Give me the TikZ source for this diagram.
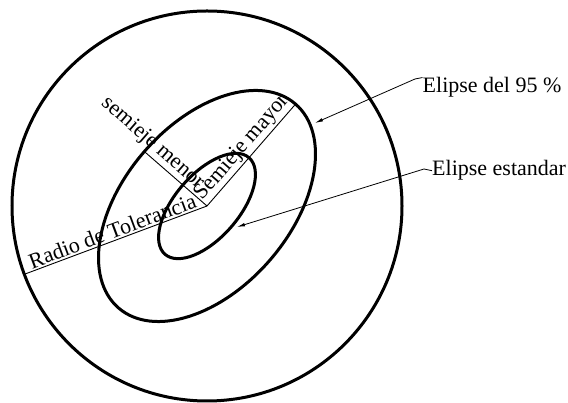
\documentclass[tikz,border=0pt]{standalone}
\usepackage{fontspec}
\setmainfont{Liberation Serif}
\usetikzlibrary{arrows.meta,calc}
\definecolor{ShapeClr}{rgb}{0,0,0}
\definecolor{AxisClr}{rgb}{0,0,0}

\begin{document}
\begin{tikzpicture}[x=1pt,y=1pt,
  ShapeLine/.style={line width=3pt,color=ShapeClr},
  AxisLine/.style={line width=0.9pt,color=AxisClr},
  AxisLabel/.style={font=\fontsize{22}{26}\selectfont,inner sep=1.5pt},
  LeaderLine/.style={line width=0.8pt,color=AxisClr,-{Latex[length=8pt,width=3.5pt]}}]
\useasboundingbox (0,0) rectangle (568,403);

\coordinate (O) at (207,197);
\coordinate (T) at ($(O)+(200.5:195)$);
\coordinate (M) at ($(O)+(49:135)$);
\coordinate (m) at ($(O)+(139:83)$);
\coordinate (P) at (315,280);
\coordinate (S) at (237,176);
\coordinate (K) at (415,324);
\coordinate (k) at (424,234);

\draw[ShapeLine] (O) circle (195);
\draw[ShapeLine,rotate around={49:(O)}] (O) ellipse (135 and 83);
\draw[ShapeLine,rotate around={49:(O)}] (O) ellipse (64 and 32);

\draw[AxisLine] (T) -- node[AxisLabel,sloped,above] {Radio de Tolerancia} (O)
  -- node[AxisLabel,sloped,above] {Semieje mayor} (M);
\draw[AxisLine] (m) -- node[AxisLabel,sloped,above,pos=0.01] {semieje menor} (O);

\node[AxisLabel,anchor=base west,inner sep=0] (e95) at (422.5,310) {Elipse del 95 \%};
\node[AxisLabel,anchor=base west,inner sep=0] (est) at (432,227) {Elipse estandar};
\draw[LeaderLine] (e95.north west) -- (K) -- (P);
\draw[LeaderLine] (est.west) -- (k) -- (S);
\end{tikzpicture}
\end{document}
